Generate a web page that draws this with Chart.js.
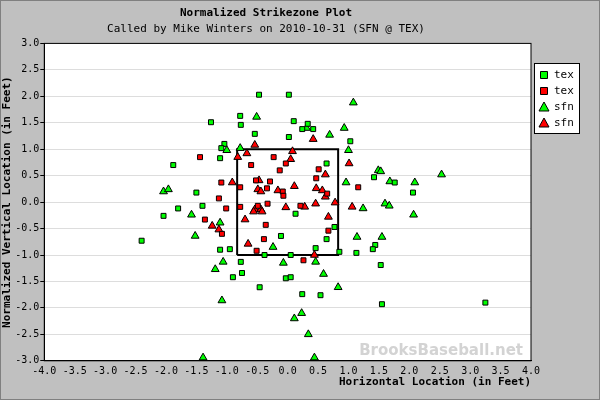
<!DOCTYPE html>
<html>
<head>
<meta charset="utf-8">
<script src="https://cdn.jsdelivr.net/npm/chart.js@4/dist/chart.umd.min.js"></script>
<style>
  body { margin: 0; background: #c0c0c0; }
  #wrap { width: 598px; height: 398px; border: 1px solid #808080; background: #c0c0c0; }
</style>
</head>
<body>
<div id="wrap"><canvas id="zoneChart" width="598" height="398"></canvas></div>
<script>
// tex green squares
const texGreen = [
    [-0.47,2.03],[0.02,2.03],[-0.78,1.63],[-0.77,1.46],[-1.26,1.51],[-0.54,1.29],[0.02,1.23],
    [-1.04,1.10],[-1.09,1.02],[-1.11,0.83],[-1.88,0.70],[-1.50,0.18],[-1.80,-0.12],[-1.40,-0.07],
    [-2.04,-0.26],[-2.40,-0.73],[-1.11,-0.90],[-0.95,-0.89],[-0.77,-1.13],[-0.90,-1.42],[-0.75,-1.34],
    [-0.46,-1.61],[0.13,-0.22],[-0.11,-0.64],[-0.38,-1.00],[0.05,-1.00],[-0.03,-1.44],[0.05,-1.42],
    [0.24,-1.74],[0.77,-0.47],[0.64,-0.70],[0.46,-0.87],[0.85,-0.94],[1.13,-0.96],[1.44,-0.81],
    [1.40,-0.89],[1.53,-1.19],[0.54,-1.76],[1.55,-1.93],[0.10,1.53],[0.33,1.48],[0.24,1.38],
    [0.42,1.38],[1.03,1.15],[0.64,0.73],[1.42,0.47],[1.76,0.37],[2.06,0.18],[3.25,-1.90]
];
// tex red squares
const texRed = [
    [-1.44,0.85],[-0.60,0.70],[-0.23,0.85],[-0.03,0.73],[-0.13,0.60],[-1.09,0.37],[-0.78,0.28],
    [-0.52,0.41],[-0.29,0.39],[-0.34,0.26],[-0.08,0.20],[-0.07,0.12],[-1.13,0.07],[-0.78,-0.09],
    [-1.01,-0.12],[-0.33,-0.03],[0.21,-0.07],[-1.36,-0.33],[-1.08,-0.60],[-0.49,-0.07],[-0.36,-0.43],
    [-0.39,-0.70],[-0.51,-0.92],[0.51,0.62],[0.47,0.45],[0.65,0.16],[1.16,0.28],[0.67,-0.54],[0.26,-1.10]
];
// sfn green triangles
const sfnGreen = [
    [-0.51,1.61],[-1.00,0.98],[-0.78,1.02],[-2.04,0.20],[-1.96,0.24],[-1.58,-0.24],[-1.11,-0.39],
    [-1.52,-0.64],[-0.24,-0.85],[-1.06,-1.13],[-1.19,-1.27],[-0.07,-1.15],[-1.08,-1.86],[0.11,-2.20],
    [0.23,-2.10],[-1.39,-2.94],[1.08,1.88],[0.93,1.40],[0.69,1.27],[0.31,1.40],[1.00,0.98],[0.96,0.37],
    [1.49,0.60],[1.53,0.58],[1.68,0.39],[2.09,0.37],[2.53,0.52],[1.60,-0.03],[1.67,-0.07],[1.24,-0.12],
    [2.07,-0.24],[1.14,-0.66],[1.55,-0.66],[0.46,-1.13],[0.59,-1.36],[0.83,-1.61],[0.34,-2.50],[0.44,-2.94]
];
// sfn red triangles
const sfnRed = [
    [-0.54,1.08],[-0.67,0.92],[-0.82,0.85],[0.08,0.96],[0.05,0.81],[-0.91,0.37],[-0.49,0.24],
    [-0.44,0.20],[-0.16,0.22],[0.11,0.30],[-0.03,-0.10],[-0.47,0.41],[-0.54,-0.14],[-0.44,-0.14],
    [-1.24,-0.45],[-1.13,-0.52],[-0.70,-0.33],[-0.65,-0.79],[-0.56,-0.18],[-0.42,-0.18],[0.42,1.19],
    [1.01,0.73],[0.62,0.52],[0.47,0.26],[0.57,0.22],[0.62,0.10],[0.46,-0.03],[0.78,-0.01],[1.06,-0.09],
    [0.28,-0.09],[0.67,-0.28],[0.44,-1.00]
];
const zoneBox = [[-0.83,-1.0],[-0.83,1.0],[0.83,1.0],[0.83,-1.0],[-0.83,-1.0]];

const toPts = arr => arr.map(p => ({ x: p[0], y: p[1] }));
const mono = 'DejaVu Sans Mono';

const plotBg = {
    id: 'plotBg',
    beforeDraw(chart) {
        const { ctx, chartArea: a } = chart;
        ctx.save();
        ctx.fillStyle = '#ffffff';
        ctx.fillRect(a.left, a.top, a.right - a.left, a.bottom - a.top);
        ctx.restore();
    },
    afterDatasetsDraw(chart) {
        const { ctx, chartArea: a } = chart;
        ctx.save();
        ctx.font = 'bold 15px "DejaVu Sans"';
        ctx.fillStyle = 'rgba(200,200,200,0.8)';
        ctx.textAlign = 'right';
        ctx.fillText('BrooksBaseball.net', a.right - 8, a.bottom - 6);
        ctx.strokeStyle = '#000';
        ctx.lineWidth = 1;
        ctx.strokeRect(a.left, a.top, a.right - a.left, a.bottom - a.top);
        // legend box
        const lx = a.right + 3, ly = 62, lw = 45, lh = 70;
        ctx.fillStyle = '#fff';
        ctx.fillRect(lx, ly, lw, lh);
        ctx.strokeRect(lx + 0.5, ly + 0.5, lw, lh);
        ctx.font = '11px ' + mono;
        ctx.textAlign = 'left';
        ctx.textBaseline = 'middle';
        chart.data.datasets.slice(0, 4).forEach((ds, i) => {
            const cy = ly + 12 + i * 16;
            const cx = lx + 10;
            ctx.fillStyle = ds.backgroundColor;
            ctx.strokeStyle = '#000';
            ctx.beginPath();
            if (ds.pointStyle === 'rect') {
                ctx.rect(cx - 3.5, cy - 3.5, 7, 7);
            } else {
                ctx.moveTo(cx, cy - 5); ctx.lineTo(cx + 5, cy + 4); ctx.lineTo(cx - 5, cy + 4); ctx.closePath();
            }
            ctx.fill(); ctx.stroke();
            ctx.fillStyle = '#000';
            ctx.fillText(ds.label, cx + 10, cy);
        });
        ctx.restore();
    }
};

const mk = (label, data, color, style, r) => ({
    label, data: toPts(data), pointStyle: style, pointRadius: r, pointHoverRadius: r,
    backgroundColor: color, borderColor: '#000', borderWidth: 1
});

new Chart(document.getElementById('zoneChart'), {
    type: 'scatter',
    data: {
        datasets: [
            mk('tex', texGreen, '#00ff00', 'rect', 3.5),
            mk('tex', texRed, '#ff0000', 'rect', 3.5),
            mk('sfn', sfnGreen, '#00ff00', 'triangle', 4.5),
            mk('sfn', sfnRed, '#ff0000', 'triangle', 4.5),
            { type: 'line', label: 'zone', data: toPts(zoneBox), borderColor: '#000', borderWidth: 2,
              pointRadius: 0, fill: false, showLine: true, order: 10 }
        ]
    },
    options: {
        responsive: false,
        animation: false,
        layout: { padding: { top: 4, right: 68, left: 0, bottom: 8 } },
        plugins: {
            title: { display: true, text: 'Normalized Strikezone Plot', color: '#000',
                     font: { family: mono, size: 11, weight: 'bold' }, padding: { top: 2, bottom: 2 } },
            subtitle: { display: true, text: 'Called by Mike Winters on 2010-10-31 (SFN @ TEX)', color: '#000',
                        font: { family: mono, size: 11 }, padding: { bottom: 8 } },
            legend: { display: false },
            tooltip: { enabled: false }
        },
        scales: {
            x: {
                min: -4, max: 4,
                ticks: { stepSize: 0.5, color: '#000', font: { family: mono, size: 10 }, padding: 1,
                         callback: v => Number(v).toFixed(1), maxRotation: 0, autoSkip: false },
                grid: { display: false, drawTicks: true, tickLength: 4, color: '#000' },
                border: { color: '#000' },
                title: { display: true, text: 'Horizontal Location (in Feet)', align: 'end', color: '#000',
                         font: { family: mono, size: 11, weight: 'bold' }, padding: { top: -3, bottom: 2 } }
            },
            y: {
                min: -3, max: 3,
                ticks: { stepSize: 0.5, color: '#000', font: { family: mono, size: 10 }, padding: 1,
                         callback: v => Number(v).toFixed(1) },
                grid: { color: '#dddddd', tickLength: 4, tickColor: '#000' },
                border: { color: '#000' },
                title: { display: true, text: 'Normalized Vertical Location (in Feet)', color: '#000',
                         font: { family: mono, size: 11, weight: 'bold' }, padding: 0 }
            }
        }
    },
    plugins: [plotBg]
});
</script>
</body>
</html>
